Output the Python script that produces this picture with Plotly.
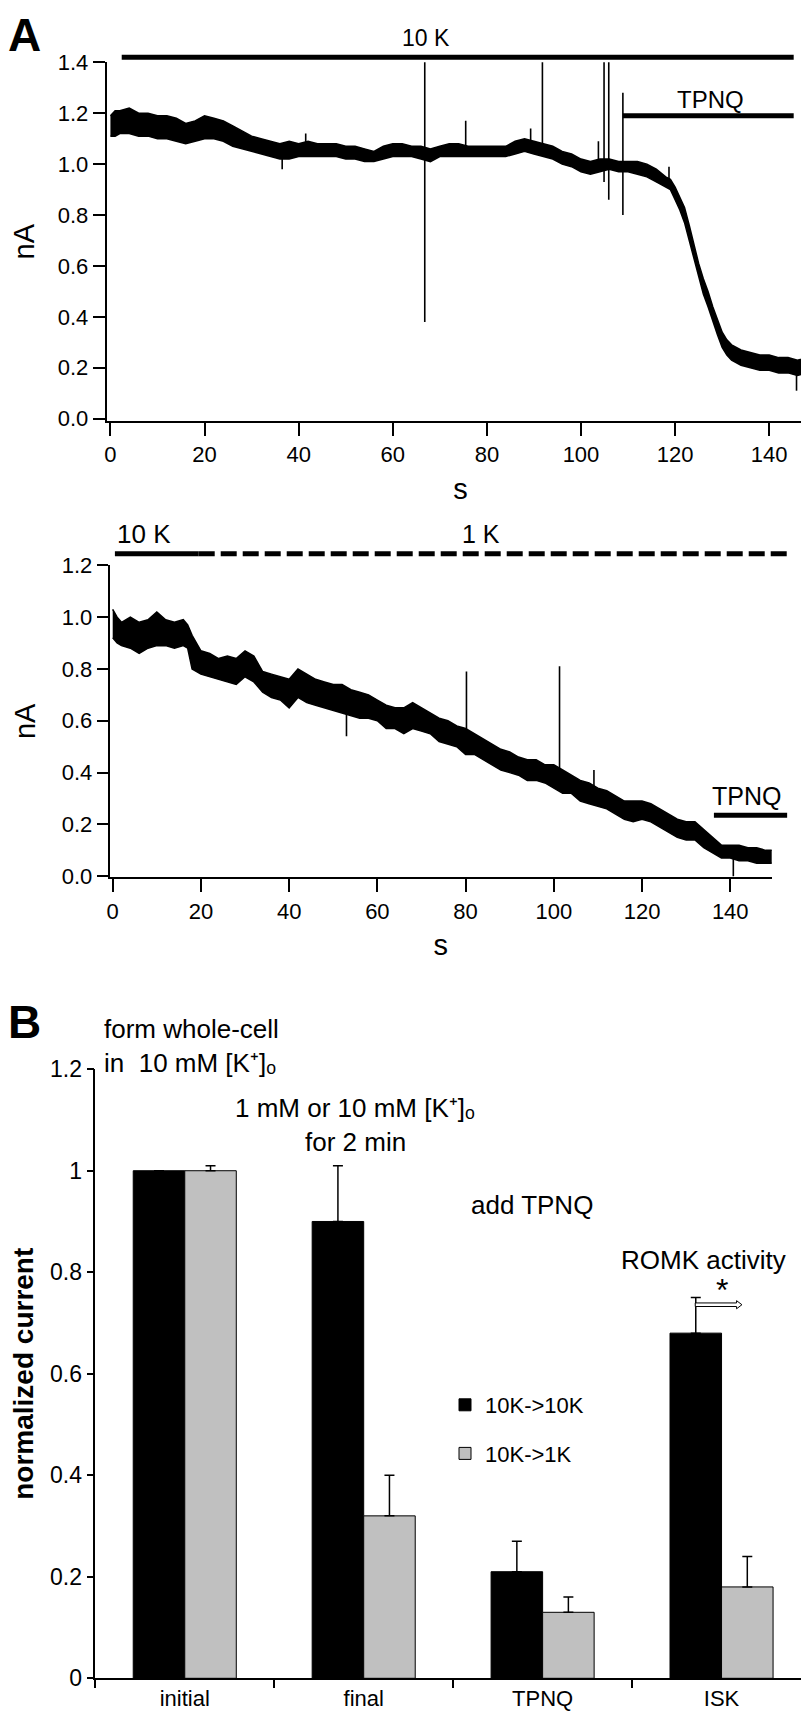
import plotly.graph_objects as go

W, H = 809, 1712
FONT = "Liberation Sans, Arial, sans-serif"

# ---------------- Panel A (top): 10 K throughout, TPNQ added ----------------
a1_t = [0, 1, 2, 4, 6, 8, 10, 12, 14, 16, 18, 20, 22, 24, 26, 28, 30, 32, 34, 36,
        38, 40, 42, 44, 46, 48, 50, 52, 54, 56, 58, 60, 62, 64, 66, 68, 70, 72, 74,
        76, 78, 80, 82, 84, 86, 88, 90, 92, 94, 96, 98, 100, 102, 104, 106, 108,
        110, 112, 114, 116, 118, 119, 120, 121, 122, 123, 124, 125, 126, 127, 128,
        129, 130, 131, 132, 134, 136, 138, 140, 142, 144, 146, 148, 149.5]
a1_low = [1.11, 1.11, 1.12, 1.12, 1.11, 1.11, 1.10, 1.10, 1.09, 1.08, 1.09, 1.10,
          1.10, 1.09, 1.07, 1.06, 1.05, 1.04, 1.03, 1.02, 1.02, 1.03, 1.03, 1.03,
          1.03, 1.03, 1.02, 1.02, 1.01, 1.01, 1.02, 1.03, 1.03, 1.03, 1.02, 1.01,
          1.03, 1.03, 1.03, 1.03, 1.03, 1.03, 1.03, 1.03, 1.04, 1.05, 1.04, 1.03,
          1.02, 1.00, 0.99, 0.97, 0.96, 0.97, 0.98, 0.97, 0.97, 0.96, 0.95, 0.93,
          0.91, 0.90, 0.86, 0.82, 0.77, 0.70, 0.62, 0.55, 0.49, 0.44, 0.38, 0.33,
          0.28, 0.25, 0.23, 0.21, 0.20, 0.19, 0.19, 0.18, 0.18, 0.17, 0.18, 0.18]
a1_high = [1.19, 1.21, 1.21, 1.22, 1.20, 1.20, 1.19, 1.19, 1.18, 1.16, 1.17, 1.19,
           1.18, 1.17, 1.15, 1.13, 1.11, 1.10, 1.09, 1.08, 1.09, 1.08, 1.09, 1.08,
           1.08, 1.08, 1.07, 1.07, 1.06, 1.05, 1.07, 1.08, 1.08, 1.07, 1.07, 1.06,
           1.07, 1.08, 1.08, 1.07, 1.07, 1.07, 1.07, 1.07, 1.09, 1.10, 1.09, 1.08,
           1.07, 1.05, 1.04, 1.02, 1.01, 1.02, 1.02, 1.01, 1.01, 1.01, 1.00, 0.98,
           0.95, 0.94, 0.91, 0.87, 0.83, 0.76, 0.68, 0.61, 0.55, 0.50, 0.44, 0.39,
           0.34, 0.31, 0.29, 0.27, 0.26, 0.25, 0.25, 0.24, 0.24, 0.23, 0.24, 0.23]
a1_spike_t = [36.5, 41.5, 66.8, 75.5, 89.3, 91.8, 103.7, 104.9, 105.9, 108.9, 118.7, 145.8]
a1_spike_lo = [0.98, 1.05, 0.38, 1.05, 1.07, 1.05, 0.98, 0.93, 0.86, 0.80, 0.93, 0.11]
a1_spike_hi = [1.05, 1.12, 1.41, 1.17, 1.14, 1.41, 1.09, 1.41, 1.41, 1.28, 0.99, 0.20]
a1_bars = {"10 K": (2.4, 145.2, 1.42), "TPNQ": (108.9, 145.2, 1.19)}
a1_xticks = [0, 20, 40, 60, 80, 100, 120, 140]
a1_yticks = [0.0, 0.2, 0.4, 0.6, 0.8, 1.0, 1.2, 1.4]

# ---------------- Panel A (bottom): 10 K -> 1 K, TPNQ added ----------------
a2_t = [0, 1, 2, 4, 6, 8, 10, 12, 14, 16, 17, 18, 20, 22, 24, 26, 28, 30, 32, 34,
        36, 38, 40, 42, 44, 46, 48, 50, 52, 54, 56, 58, 60, 62, 64, 66, 68, 70, 72,
        74, 76, 78, 80, 82, 84, 86, 88, 90, 92, 94, 96, 98, 100, 102, 104, 106, 108,
        110, 112, 114, 116, 118, 120, 122, 124, 126, 128, 130, 132, 134, 136, 138,
        140, 142, 144, 146, 148, 149.5]
a2_low = [0.92, 0.90, 0.89, 0.88, 0.86, 0.88, 0.89, 0.89, 0.88, 0.89, 0.88, 0.80,
          0.78, 0.77, 0.76, 0.75, 0.74, 0.77, 0.75, 0.71, 0.69, 0.68, 0.65, 0.69,
          0.67, 0.66, 0.65, 0.64, 0.63, 0.62, 0.61, 0.61, 0.60, 0.57, 0.57, 0.55,
          0.57, 0.56, 0.55, 0.52, 0.51, 0.50, 0.47, 0.47, 0.45, 0.43, 0.41, 0.40,
          0.39, 0.37, 0.37, 0.36, 0.34, 0.32, 0.32, 0.29, 0.28, 0.27, 0.26, 0.24,
          0.22, 0.21, 0.22, 0.21, 0.19, 0.17, 0.15, 0.14, 0.14, 0.11, 0.09, 0.07,
          0.07, 0.06, 0.06, 0.05, 0.05, 0.05]
a2_high = [1.03, 1.00, 0.98, 1.00, 0.98, 0.99, 1.02, 0.99, 0.98, 0.99, 0.97, 0.93,
           0.87, 0.86, 0.84, 0.85, 0.84, 0.87, 0.85, 0.79, 0.78, 0.77, 0.76, 0.80,
           0.78, 0.76, 0.75, 0.74, 0.74, 0.72, 0.71, 0.70, 0.68, 0.66, 0.65, 0.65,
           0.67, 0.65, 0.63, 0.61, 0.60, 0.58, 0.57, 0.55, 0.53, 0.51, 0.49, 0.48,
           0.46, 0.45, 0.45, 0.43, 0.43, 0.41, 0.39, 0.37, 0.36, 0.34, 0.33, 0.31,
           0.29, 0.29, 0.29, 0.28, 0.26, 0.24, 0.22, 0.21, 0.21, 0.18, 0.15, 0.12,
           0.12, 0.12, 0.11, 0.11, 0.10, 0.10]
a2_spike_t = [53.0, 80.2, 101.3, 109.1, 140.7]
a2_spike_lo = [0.54, 0.50, 0.38, 0.30, 0.00]
a2_spike_hi = [0.66, 0.79, 0.81, 0.41, 0.08]
a2_bar_10k = (0.5, 19.5, 1.245)
a2_bar_1k = (19.5, 152.9, 1.245)
a2_bar_tpnq = (136.3, 152.9, 0.235)
a2_xticks = [0, 20, 40, 60, 80, 100, 120, 140]
a2_yticks = [0.0, 0.2, 0.4, 0.6, 0.8, 1.0, 1.2]

# ---------------- Panel B: normalized current ----------------
b_categories = ["initial", "final", "TPNQ", "ISK"]
b_10k_10k = [1.00, 0.90, 0.21, 0.68]
b_10k_10k_err = [0.00, 0.11, 0.06, 0.07]
b_10k_1k = [1.00, 0.32, 0.13, 0.18]
b_10k_1k_err = [0.01, 0.08, 0.03, 0.06]
b_yticks = [0, 0.2, 0.4, 0.6, 0.8, 1.0, 1.2]
b_yticktext = ["0", "0.2", "0.4", "0.6", "0.8", "1", "1.2"]

# ---------------- layout geometry (pixels) ----------------
def dom_x(p0, p1):
    return [p0 / W, p1 / W]

def dom_y(top, bottom):
    return [1 - bottom / H, 1 - top / H]

AX = {
    "a1": dict(xd=dom_x(98.7, 806.4), yd=dom_y(54.3, 413.0), xr=[-0.79, 149.6], yr=[-0.009, 1.4]),
    "a2": dict(xd=dom_x(101.7, 763.7), yd=dom_y(557.3, 869.3), xr=[-0.68, 149.4], yr=[-0.004, 1.2]),
    "b": dict(xd=dom_x(87.3, 803.0), yd=dom_y(1061.2, 1670.3), xr=[-0.5, 3.5], yr=[0, 1.2]),
}

def px(v, key):
    a = AX[key]
    lo, hi = a["xr"]
    return a["xd"][0] + (v - lo) / (hi - lo) * (a["xd"][1] - a["xd"][0])

def py(v, key):
    a = AX[key]
    lo, hi = a["yr"]
    return a["yd"][0] + (v - lo) / (hi - lo) * (a["yd"][1] - a["yd"][0])

fig = go.Figure()

def add_band(t, lo, hi, xa, ya):
    fig.add_trace(go.Scatter(x=t, y=hi, mode="lines", line=dict(color="black", width=1.5),
                             xaxis=xa, yaxis=ya, showlegend=False, hoverinfo="skip"))
    fig.add_trace(go.Scatter(x=t, y=lo, mode="lines", line=dict(color="black", width=1.5),
                             fill="tonexty", fillcolor="black",
                             xaxis=xa, yaxis=ya, showlegend=False, hoverinfo="skip"))

def add_spikes(st, slo, shi, xa, ya):
    xs, ys = [], []
    for t, a, b in zip(st, slo, shi):
        xs += [t, t, None]
        ys += [a, b, None]
    fig.add_trace(go.Scatter(x=xs, y=ys, mode="lines", line=dict(color="black", width=1.6),
                             xaxis=xa, yaxis=ya, showlegend=False, hoverinfo="skip"))

add_band(a1_t, a1_low, a1_high, "x", "y")
add_spikes(a1_spike_t, a1_spike_lo, a1_spike_hi, "x", "y")
add_band(a2_t, a2_low, a2_high, "x2", "y2")
add_spikes(a2_spike_t, a2_spike_lo, a2_spike_hi, "x2", "y2")

err_style = dict(type="data", symmetric=False, color="black", thickness=1.5, width=5)
fig.add_trace(go.Bar(x=b_categories, y=b_10k_10k, name="10K->10K",
                     marker=dict(color="black", line=dict(color="black", width=1)),
                     error_y=dict(array=b_10k_10k_err, arrayminus=[0] * len(b_10k_10k_err), **err_style),
                     xaxis="x3", yaxis="y3", legendgroup="a"))
fig.add_trace(go.Bar(x=b_categories, y=b_10k_1k, name="10K->1K",
                     marker=dict(color="#c0c0c0", line=dict(color="black", width=1)),
                     error_y=dict(array=b_10k_1k_err, arrayminus=[0] * len(b_10k_1k_err), **err_style),
                     xaxis="x3", yaxis="y3", legendgroup="b"))

# condition bars (drawn outside the plot areas, so in paper units)
shapes = []
def hbar(t0, t1, v, key, dash=None, width=5):
    line = dict(color="black", width=width)
    if dash:
        line["dash"] = dash
    shapes.append(dict(type="line", xref="paper", yref="paper",
                       x0=px(t0, key), x1=px(t1, key), y0=py(v, key), y1=py(v, key), line=line))

for name, (t0, t1, v) in a1_bars.items():
    hbar(t0, t1, v, "a1")
hbar(*a2_bar_10k, "a2")
hbar(*a2_bar_1k, "a2", dash="16px,6px")
hbar(*a2_bar_tpnq, "a2")

# hollow arrow in panel B (ROMK activity)
ax0, ax1, ay = 2.853, 3.114, 0.736
hh, hw, hl = 0.0035, 0.008, 0.03
pts = [(ax0, ay + hh), (ax1 - hl, ay + hh), (ax1 - hl, ay + hw), (ax1, ay),
       (ax1 - hl, ay - hw), (ax1 - hl, ay - hh), (ax0, ay - hh)]
path = "M " + " L ".join(f"{px(x, 'b'):.5f},{py(y, 'b'):.5f}" for x, y in pts) + " Z"
shapes.append(dict(type="path", xref="paper", yref="paper", path=path,
                   fillcolor="white", line=dict(color="black", width=1)))

annotations = []
def txt(text, x, y, size, xanchor="center", bold=False):
    annotations.append(dict(text=f"<b>{text}</b>" if bold else text, x=x, y=y,
                            xref="paper", yref="paper", xanchor=xanchor, yanchor="middle",
                            showarrow=False,
                            font=dict(family=FONT, size=size, color="black")))

txt("A", 16.5 / W, 1 - 27 / H, 46, bold=True)
txt("B", 16.5 / W, 1 - 1014 / H, 46, bold=True)
txt("10 K", px(67, "a1"), py(1.495, "a1"), 23)
txt("TPNQ", px(127.5, "a1"), py(1.252, "a1"), 24)
txt("10 K", px(7.1, "a2"), py(1.32, "a2"), 26)
txt("1 K", px(83.6, "a2"), py(1.32, "a2"), 25)
txt("TPNQ", px(143.8, "a2"), py(0.31, "a2"), 25)
txt("form whole-cell", 94 / W, 1 - 1021 / H, 26, xanchor="left")
txt("in\u00a0 10 mM [K\u207a]\u2092", 94 / W, 1 - 1055 / H, 26, xanchor="left")
txt("1 mM or 10 mM [K\u207a]\u2092", 347 / W, 1 - 1100 / H, 26)
txt("for 2 min", 347 / W, 1 - 1134 / H, 26)
txt("add TPNQ", 524 / W, 1 - 1197 / H, 26)
txt("ROMK activity", 695 / W, 1 - 1252 / H, 26)
txt("*", px(3.0, "b"), py(0.765, "b"), 32)

def lin_axis(key, which, ticks, ticklen, title=None, ticktext=None, fmt=None, lw=2,
             standoff=10, fs=22, title_fs=29):
    a = AX[key]
    d = dict(domain=a[which + "d"], range=a[which + "r"], showline=True, linewidth=lw,
             linecolor="black", ticks="outside", ticklen=ticklen, tickwidth=lw,
             tickcolor="black", tickvals=ticks, showgrid=False, zeroline=False,
             tickfont=dict(family=FONT, size=fs, color="black"), automargin=False, fixedrange=True)
    if ticktext is not None:
        d["ticktext"] = ticktext
    if fmt:
        d["tickformat"] = fmt
    if title:
        d["title"] = dict(text=title, font=dict(family=FONT, size=title_fs, color="black"),
                          standoff=standoff)
    return d

layout = dict(
    width=W, height=H, margin=dict(l=0, r=0, t=0, b=0),
    paper_bgcolor="white", plot_bgcolor="white",
    font=dict(family=FONT, color="black"),
    xaxis=lin_axis("a1", "x", a1_xticks, 13, title="s", standoff=12),
    yaxis=lin_axis("a1", "y", a1_yticks, 12, title="nA", fmt=".1f", standoff=16),
    xaxis2=lin_axis("a2", "x", a2_xticks, 13, title="s", standoff=12),
    yaxis2=lin_axis("a2", "y", a2_yticks, 11, title="nA", fmt=".1f", standoff=18),
    yaxis3=lin_axis("b", "y", b_yticks, 7, ticktext=b_yticktext, lw=1.5, fs=23),
    xaxis3=dict(domain=AX["b"]["xd"], range=AX["b"]["xr"], type="category", tickson="boundaries",
                showline=True, linewidth=1.5, linecolor="black", ticks="outside", ticklen=8,
                tickwidth=1.5, tickcolor="black", showgrid=False, zeroline=False,
                tickfont=dict(family=FONT, size=22, color="black"), automargin=False, fixedrange=True),
    barmode="group", bargap=0.424, bargroupgap=0.0,
    showlegend=True,
    legend=dict(x=437 / W, y=1 - 1376 / H, xanchor="left", yanchor="top",
                font=dict(family=FONT, size=22, color="black"), bgcolor="rgba(0,0,0,0)",
                traceorder="grouped", tracegroupgap=17),
    shapes=shapes, annotations=annotations,
)
layout["yaxis3"]["title"] = dict(text="<b>normalized current</b>",
                                 font=dict(family=FONT, size=28, color="black"), standoff=10)
fig.update_layout(**layout)
fig.layout.xaxis.anchor = "y"
fig.layout.yaxis.anchor = "x"
fig.layout.xaxis2.anchor = "y2"
fig.layout.yaxis2.anchor = "x2"
fig.layout.xaxis3.anchor = "y3"
fig.layout.yaxis3.anchor = "x3"

fig.write_html("out.html")
